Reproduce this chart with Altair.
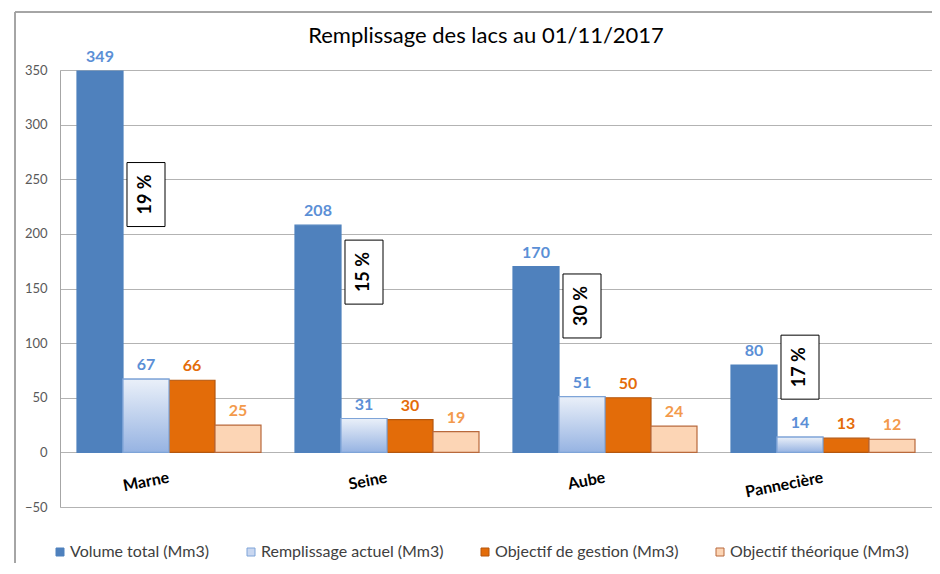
import altair as alt
import pandas as pd

title_text = "Remplissage des lacs au 01/11/2017"
lakes = ["Marne", "Seine", "Aube", "Pannecière"]
series = [
    "Volume total (Mm3)",
    "Remplissage actuel (Mm3)",
    "Objectif de gestion (Mm3)",
    "Objectif théorique (Mm3)",
]
volume_total = [349, 208, 170, 80]
remplissage_actuel = [67, 31, 51, 14]
objectif_gestion = [66, 30, 50, 13]
objectif_theorique = [25, 19, 24, 12]
pct_labels = ["19 %", "15 %", "30 %", "17 %"]
pct_y = [236, 165, 134, 78]
y_ticks = [-50, 0, 50, 100, 150, 200, 250, 300, 350]

fill_colors = ["#4f81bd", "#c9d7f0", "#e36c09", "#fcd5b5"]
stroke_colors = ["#4f81bd", "#7ea4d8", "#b5570f", "#b8693c"]
label_colors = ["#5b8fd6", "#5b8fd6", "#e46c0a", "#f39a4c"]

FONT = "Lato"
W, H = 872, 437

values_by_series = [volume_total, remplissage_actuel, objectif_gestion, objectif_theorique]
rows = []
for s_i, s in enumerate(series):
    for l_i, lake in enumerate(lakes):
        rows.append({"lac": lake, "serie": s, "valeur": values_by_series[s_i][l_i],
                     "couleur": label_colors[s_i]})
df = pd.DataFrame(rows)

df_lakes = pd.DataFrame({"lac": lakes, "pct": pct_labels, "pct_y": pct_y,
                         "serie": [series[1]] * len(lakes)})
df_title = pd.DataFrame({"titre": [title_text]})

x_enc = alt.X("lac:N", sort=lakes, axis=None,
              scale=alt.Scale(domain=lakes, paddingInner=0.156, paddingOuter=0.078))
xoff_enc = alt.XOffset("serie:N", sort=series,
                       scale=alt.Scale(domain=series, paddingInner=0, paddingOuter=0))
y_scale = alt.Scale(domain=[-50, 350], nice=False, zero=False)

legend_cfg = dict(orient="none", legendX=-8, legendY=474, direction="horizontal",
                  columns=4, title=None, symbolType="square", symbolSize=64,
                  labelFontSize=16, labelFont=FONT, labelColor="#404040", labelLimit=400,
                  columnPadding=33, labelOffset=2, symbolStrokeWidth=1, padding=0)

bars = alt.Chart(df).mark_bar(strokeWidth=1.2).encode(
    x=x_enc,
    xOffset=xoff_enc,
    y=alt.Y("valeur:Q", scale=y_scale,
            axis=alt.Axis(values=y_ticks, grid=True, gridColor="#b3b3b3", domainColor="#a6a6a6",
                          ticks=False, labelPadding=13, labelFontSize=13, labelFont=FONT,
                          labelColor="#595959", title=None)),
    color=alt.Color("serie:N", sort=series,
                    scale=alt.Scale(domain=series, range=fill_colors),
                    legend=alt.Legend(**legend_cfg)),
    stroke=alt.Stroke("serie:N", sort=series,
                      scale=alt.Scale(domain=series, range=stroke_colors),
                      legend=alt.Legend(**legend_cfg)),
)

gradient = alt.Gradient(
    gradient="linear",
    stops=[alt.GradientStop(color="#eaf0f9", offset=0),
           alt.GradientStop(color="#96b3e2", offset=1)],
    x1=0, x2=0, y1=0, y2=1,
)
grad_bars = alt.Chart(df).transform_filter(
    alt.datum.serie == series[1]
).mark_bar(fill=gradient, stroke="#7ea4d8", strokeWidth=1.2).encode(
    x=x_enc, xOffset=xoff_enc, y=alt.Y("valeur:Q", scale=y_scale),
)

value_labels = alt.Chart(df).mark_text(
    font=FONT, fontSize=16, fontWeight="bold", baseline="alphabetic", dy=-9
).encode(
    x=x_enc, xOffset=xoff_enc, y=alt.Y("valeur:Q", scale=y_scale),
    text=alt.Text("valeur:Q"),
    color=alt.Color("couleur:N", scale=None),
)

cat_labels = alt.Chart(df_lakes).mark_text(
    font=FONT, fontSize=16, fontWeight="bold", angle=349, align="right",
    baseline="middle", color="#000000"
).encode(
    x=x_enc, y=alt.datum(-23), text="lac:N",
)

box = alt.Chart(df_lakes).mark_point(
    shape="M-0.594,-1H0.594V1H-0.594Z", size=4096, filled=True, fill="#ffffff",
    stroke="#000000", strokeWidth=1, opacity=1
).encode(
    x=x_enc, xOffset=xoff_enc, y=alt.Y("pct_y:Q", scale=y_scale),
)

pct_text = alt.Chart(df_lakes).mark_text(
    font=FONT, fontSize=18, fontWeight="bold", angle=270, align="center",
    baseline="middle", color="#000000"
).encode(
    x=x_enc, xOffset=xoff_enc, y=alt.Y("pct_y:Q", scale=y_scale), text="pct:N",
)

title_mark = alt.Chart(df_title).mark_text(
    font=FONT, fontSize=22, fontWeight="normal", align="center",
    baseline="alphabetic", color="#000000"
).encode(
    x=alt.value(W / 2 - 10), y=alt.value(-27), text="titre:N",
)

frame_left = alt.Chart(df_lakes).mark_rule(color="#a0a0a0", strokeWidth=1).encode(
    x=alt.value(-45), y=alt.value(-58), y2=alt.value(H + 80)
)
frame_top = alt.Chart(df_lakes).mark_rule(color="#a0a0a0", strokeWidth=1).encode(
    x=alt.value(-45), x2=alt.value(W + 10), y=alt.value(-58)
)

chart = alt.layer(
    frame_left, frame_top, bars, grad_bars, value_labels, cat_labels, box, pct_text, title_mark
).properties(
    width=W, height=H,
    autosize=alt.AutoSizeParams(type="none"),
    padding={"left": 52, "top": 62, "right": 0, "bottom": 56},
).configure_view(stroke=None).configure(background="#ffffff")

chart.save("out.html", embed_options={"renderer": "svg", "actions": False})
